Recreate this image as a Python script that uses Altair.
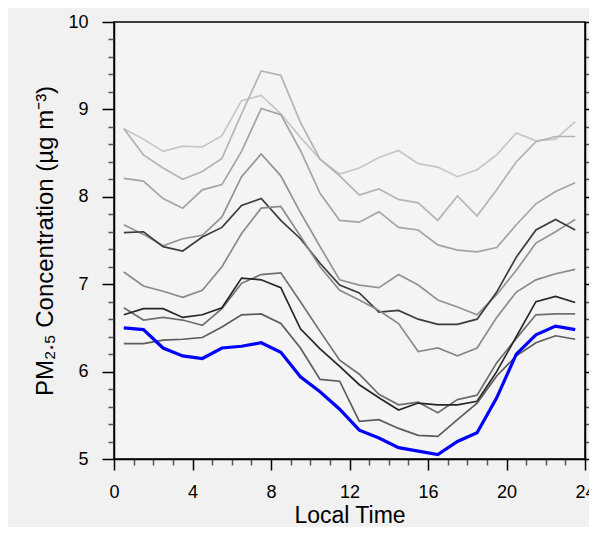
import altair as alt
import pandas as pd

hours = [0.5, 1.5, 2.5, 3.5, 4.5, 5.5, 6.5, 7.5, 8.5, 9.5, 10.5, 11.5,
         12.5, 13.5, 14.5, 15.5, 16.5, 17.5, 18.5, 19.5, 20.5, 21.5, 22.5, 23.5]

s01 = [8.78, 8.66, 8.52, 8.58, 8.57, 8.70, 9.10, 9.16, 8.95, 8.68, 8.43, 8.26,
       8.33, 8.45, 8.53, 8.38, 8.34, 8.23, 8.31, 8.48, 8.73, 8.64, 8.66, 8.86]
s02 = [8.78, 8.48, 8.33, 8.20, 8.29, 8.44, 8.95, 9.44, 9.39, 8.85, 8.43, 8.24,
       8.02, 8.09, 7.97, 7.93, 7.73, 8.01, 7.78, 8.08, 8.40, 8.63, 8.69, 8.69]
s03 = [8.21, 8.18, 7.98, 7.87, 8.08, 8.14, 8.52, 9.01, 8.94, 8.53, 8.04, 7.73,
       7.71, 7.83, 7.65, 7.62, 7.45, 7.39, 7.37, 7.42, 7.68, 7.92, 8.06, 8.16]
s04 = [7.68, 7.57, 7.44, 7.52, 7.56, 7.77, 8.23, 8.49, 8.24, 7.82, 7.43, 7.05,
       6.99, 6.96, 7.11, 6.99, 6.82, 6.74, 6.65, 6.88, 7.16, 7.47, 7.60, 7.74]
s05 = [7.59, 7.60, 7.43, 7.38, 7.54, 7.65, 7.90, 7.98, 7.73, 7.52, 7.24, 6.99,
       6.90, 6.68, 6.70, 6.60, 6.54, 6.54, 6.60, 6.91, 7.31, 7.62, 7.74, 7.62]
s06 = [7.14, 6.98, 6.92, 6.85, 6.93, 7.20, 7.58, 7.87, 7.89, 7.55, 7.20, 6.93,
       6.82, 6.70, 6.55, 6.23, 6.27, 6.18, 6.27, 6.62, 6.91, 7.05, 7.12, 7.17]
s07 = [6.73, 6.59, 6.62, 6.59, 6.53, 6.72, 7.01, 7.11, 7.13, 6.80, 6.46, 6.13,
       5.97, 5.74, 5.62, 5.65, 5.53, 5.68, 5.73, 6.10, 6.38, 6.65, 6.66, 6.66]
s08 = [6.65, 6.72, 6.72, 6.62, 6.65, 6.73, 7.07, 7.05, 6.96, 6.49, 6.26, 6.06,
       5.85, 5.70, 5.56, 5.64, 5.62, 5.62, 5.66, 6.00, 6.40, 6.80, 6.86, 6.79]
s09 = [6.32, 6.32, 6.36, 6.37, 6.39, 6.51, 6.65, 6.66, 6.55, 6.27, 5.91, 5.89,
       5.43, 5.45, 5.35, 5.27, 5.26, 5.45, 5.64, 5.95, 6.18, 6.33, 6.41, 6.37]
blue = [6.50, 6.48, 6.27, 6.18, 6.15, 6.27, 6.29, 6.33, 6.22, 5.94, 5.77, 5.57,
        5.33, 5.24, 5.13, 5.09, 5.05, 5.20, 5.30, 5.70, 6.20, 6.42, 6.52, 6.48]

names = ["s01", "s02", "s03", "s04", "s05", "s06", "s07", "s08", "s09"]
series = [s01, s02, s03, s04, s05, s06, s07, s08, s09]
colors = ["#c6c6c6", "#b4b4b4", "#a4a4a4", "#939393", "#3c3c3c",
          "#8a8a8a", "#707070", "#262626", "#5c5c5c"]

x_ticks = [0, 1, 2, 3, 4, 5, 6, 7, 8, 9, 10, 11, 12, 13, 14, 15, 16, 17,
           18, 19, 20, 21, 22, 23, 24]
y_ticks = [5.0, 5.2, 5.4, 5.6, 5.8, 6.0, 6.2, 6.4, 6.6, 6.8, 7.0, 7.2, 7.4,
           7.6, 7.8, 8.0, 8.2, 8.4, 8.6, 8.8, 9.0, 9.2, 9.4, 9.6, 9.8, 10.0]

rows = []
for nm, vals in zip(names, series):
    for h, v in zip(hours, vals):
        rows.append({"hour": h, "value": v, "series": nm})
df = pd.DataFrame(rows)
df_blue = pd.DataFrame({"hour": hours, "value": blue})

FONT = "Liberation Sans"
x_major = "datum.value % 4 === 0"
y_major = "abs(datum.value - round(datum.value)) < 0.01"

x_scale = alt.Scale(domain=[0, 24], nice=False, zero=False)
y_scale = alt.Scale(domain=[5, 10], nice=False, zero=False)

x_axis = alt.Axis(
    values=x_ticks, orient="bottom", grid=False,
    labelExpr=f"{x_major} ? format(datum.value, 'd') : ''",
    labelOverlap=False, labelFlush=False,
    labelFont=FONT, labelFontSize=18, labelColor="black",
    labelBaseline="alphabetic", labelPadding=27,
    tickSize={"condition": {"test": x_major, "value": 11}, "value": 6},
    tickColor={"condition": {"test": x_major, "value": "black"}, "value": "#555555"},
    tickWidth=1.5, domainColor="black", domainWidth=1.5,
    title="Local Time", titleFont=FONT, titleFontSize=23, titleFontWeight="normal",
    titleColor="black", titleBaseline="alphabetic", titleY=63,
)

y_axis_left = alt.Axis(
    values=y_ticks, orient="left", grid=False,
    labelExpr=f"{y_major} ? format(round(datum.value), 'd') : ''",
    labelOverlap=False, labelFlush=False,
    labelFont=FONT, labelFontSize=18, labelColor="black", labelPadding=14,
    tickSize={"condition": {"test": y_major, "value": 12}, "value": 6},
    tickColor={"condition": {"test": y_major, "value": "black"}, "value": "#555555"},
    tickWidth=1.5, domainColor="black", domainWidth=1.5,
    title="PM₂.₅ Concentration (µg m⁻³)", titleFont=FONT, titleFontSize=24,
    titleFontWeight="normal", titleColor="black", titleAngle=270,
    titleBaseline="alphabetic", titleAlign="center", titleX=-62, titleY=218.5,
)

y_axis_right = alt.Axis(
    values=y_ticks, orient="right", grid=False, labels=False, title=None,
    tickSize={"condition": {"test": y_major, "value": 12}, "value": 6},
    tickColor={"condition": {"test": y_major, "value": "black"}, "value": "#555555"},
    tickWidth=1.5, domainColor="black", domainWidth=1.5,
)

lines = alt.Chart(df).mark_line(interpolate="linear", strokeWidth=1.7).encode(
    x=alt.X("hour:Q", scale=x_scale, axis=x_axis),
    y=alt.Y("value:Q", scale=y_scale, axis=y_axis_left),
    color=alt.Color("series:N", scale=alt.Scale(domain=names, range=colors), legend=None),
    order=alt.Order("hour:Q"),
)

blue_line = alt.Chart(df_blue).mark_line(
    interpolate="linear", strokeWidth=3.2, color="#0000ff"
).encode(
    x=alt.X("hour:Q", scale=x_scale, axis=None),
    y=alt.Y("value:Q", scale=y_scale, axis=None),
)

right = alt.Chart(df).mark_line(strokeOpacity=0).encode(
    x=alt.X("hour:Q", scale=x_scale, axis=None),
    y=alt.Y("value:Q", scale=y_scale, axis=y_axis_right),
    detail="series:N",
)

chart = alt.layer(right, lines, blue_line).resolve_axis(
    x="independent", y="independent"
).properties(
    width=471, height=437,
    autosize=alt.AutoSizeParams(type="none"),
    padding={"left": 106, "top": 14, "right": 4, "bottom": 68},
    background="#f1f1f1",
).configure_view(
    stroke="black", strokeWidth=1.5, fill="#f4f4f4",
)

chart.save("out.html", embed_options={"renderer": "svg", "actions": False})
